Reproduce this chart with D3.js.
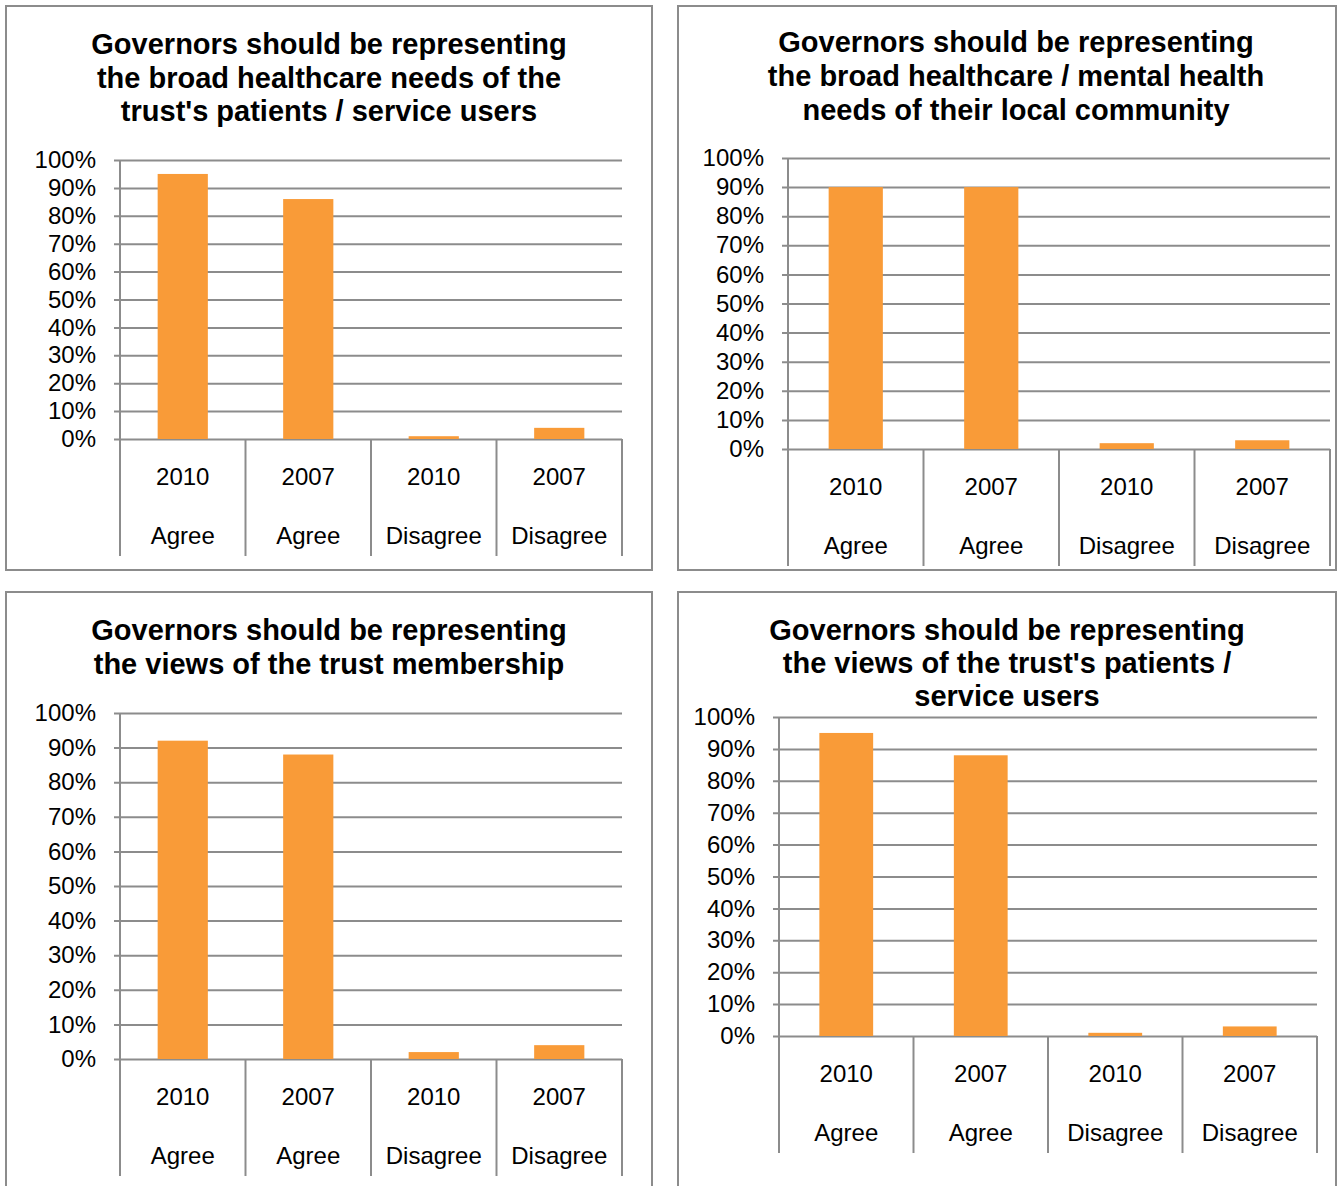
<!DOCTYPE html>
<html>
<head>
<meta charset="utf-8">
<script src="https://cdn.jsdelivr.net/npm/d3@7"></script>
<style>
  html, body { margin: 0; padding: 0; background: #fff; }
  svg { display: block; }
  text { font-family: "Liberation Sans", Arial, sans-serif; fill: #000; }
</style>
</head>
<body>
<svg id="chart" width="1338" height="1186"></svg>
<script>
// Survey responses: share of governors agreeing / disagreeing, 2010 vs 2007
const responseGroups = ["Agree", "Agree", "Disagree", "Disagree"];
const surveyYears = ["2010", "2007", "2010", "2007"];

const titleHealthPatients = ["Governors should be representing", "the broad healthcare needs of the", "trust's patients / service users"];
const titleHealthCommunity = ["Governors should be representing", "the broad healthcare / mental health", "needs of their local community"];
const titleViewsMembership = ["Governors should be representing", "the views of the trust membership"];
const titleViewsPatients = ["Governors should be representing", "the views of the trust's patients /", "service users"];

const valuesHealthPatients = [0.95, 0.86, 0.01, 0.04];
const valuesHealthCommunity = [0.90, 0.90, 0.02, 0.03];
const valuesViewsMembership = [0.92, 0.88, 0.02, 0.04];
const valuesViewsPatients = [0.95, 0.88, 0.01, 0.03];

const percentTicks = [0, 0.1, 0.2, 0.3, 0.4, 0.5, 0.6, 0.7, 0.8, 0.9, 1.0];

// Panel layout (frame, plot area, title placement)
const panels = [
  { title: titleHealthPatients, values: valuesHealthPatients,
    frame: [6, 6, 652, 570], plot: { left: 120, right: 622, top: 160, bottom: 439 },
    titleX: 329, titleY: 44, lineGap: 33.5 },
  { title: titleHealthCommunity, values: valuesHealthCommunity,
    frame: [678, 6, 1336, 570], plot: { left: 788, right: 1330, top: 158, bottom: 449 },
    titleX: 1016, titleY: 42, lineGap: 34 },
  { title: titleViewsMembership, values: valuesViewsMembership,
    frame: [6, 592, 652, 1200], plot: { left: 120, right: 622, top: 713, bottom: 1059 },
    titleX: 329, titleY: 630, lineGap: 34 },
  { title: titleViewsPatients, values: valuesViewsPatients,
    frame: [678, 592, 1336, 1200], plot: { left: 779, right: 1317, top: 717, bottom: 1036 },
    titleX: 1007, titleY: 630, lineGap: 33 }
];

const barColor = "#F99B38";
const lineColor = "#8c8c8c";

const svg = d3.select("#chart");

panels.forEach((p) => {
  const g = svg.append("g");
  const [fx0, fy0, fx1, fy1] = p.frame;

  // frame
  g.append("rect")
    .attr("x", fx0).attr("y", fy0)
    .attr("width", fx1 - fx0).attr("height", fy1 - fy0)
    .attr("fill", "#fff").attr("stroke", lineColor).attr("stroke-width", 2);

  // title
  g.append("g").selectAll("text")
    .data(p.title)
    .join("text")
    .attr("x", p.titleX)
    .attr("y", (d, i) => p.titleY + i * p.lineGap)
    .attr("dy", "0.35em")
    .attr("text-anchor", "middle")
    .attr("font-weight", "bold")
    .attr("font-size", 29)
    .text(d => d);

  const keys = responseGroups.map((c, i) => i);
  const x = d3.scaleBand().domain(keys).range([p.plot.left, p.plot.right]).paddingInner(0).paddingOuter(0);
  const y = d3.scaleLinear().domain([0, 1]).range([p.plot.bottom, p.plot.top]);

  // gridlines + tick labels (stub extends 6px left of the axis)
  const stub = 6;
  const yAxis = d3.axisLeft(y)
    .tickValues(percentTicks)
    .tickFormat(d3.format(".0%"))
    .tickSize(-(p.plot.right - p.plot.left + stub))
    .tickPadding(18);
  const ag = g.append("g")
    .attr("transform", `translate(${p.plot.left - stub},0)`)
    .call(yAxis);
  ag.select(".domain").remove();
  ag.selectAll(".tick line").attr("stroke", lineColor).attr("stroke-width", 2);
  ag.selectAll(".tick text")
    .attr("font-family", "Liberation Sans, Arial, sans-serif")
    .attr("font-size", 24)
    .attr("fill", "#000");

  // vertical value axis
  g.append("line")
    .attr("x1", p.plot.left).attr("x2", p.plot.left)
    .attr("y1", y(1)).attr("y2", y(0))
    .attr("stroke", lineColor).attr("stroke-width", 2);

  // bars
  const bw = x.bandwidth() * 0.4;
  g.append("g").selectAll("rect")
    .data(p.values)
    .join("rect")
    .attr("x", (d, i) => x(i) + (x.bandwidth() - bw) / 2)
    .attr("y", d => y(d))
    .attr("width", bw)
    .attr("height", d => y(0) - y(d))
    .attr("fill", barColor);

  // category dividers below the plot
  const dividerDepth = 117;
  const bounds = keys.map(k => x(k)).concat([x.range()[1]]);
  g.append("g").selectAll("line")
    .data(bounds)
    .join("line")
    .attr("x1", d => d).attr("x2", d => d)
    .attr("y1", y(0)).attr("y2", y(0) + dividerDepth)
    .attr("stroke", lineColor).attr("stroke-width", 2);

  // two-level category labels
  const lbl = g.append("g");
  lbl.selectAll("text.year")
    .data(surveyYears)
    .join("text")
    .attr("class", "year")
    .attr("x", (d, i) => x(i) + x.bandwidth() / 2)
    .attr("y", y(0) + 38)
    .attr("dy", "0.35em")
    .attr("text-anchor", "middle")
    .attr("font-size", 24)
    .text(d => d);
  lbl.selectAll("text.group")
    .data(responseGroups)
    .join("text")
    .attr("class", "group")
    .attr("x", (d, i) => x(i) + x.bandwidth() / 2)
    .attr("y", y(0) + 97)
    .attr("dy", "0.35em")
    .attr("text-anchor", "middle")
    .attr("font-size", 24)
    .text(d => d);
});
</script>
</body>
</html>
